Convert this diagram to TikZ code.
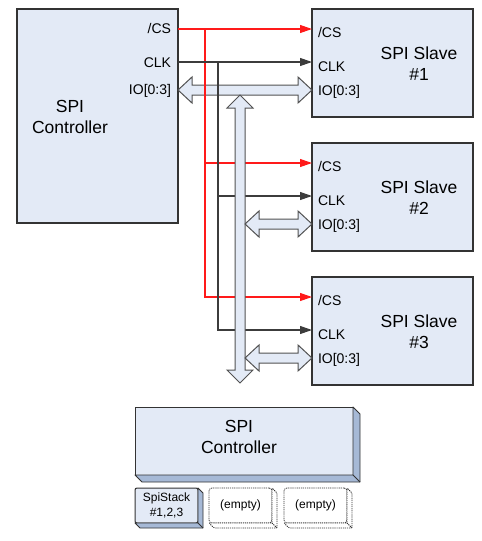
\documentclass[tikz,border=0pt]{standalone}
\usepackage{fontspec}
\setmainfont{Liberation Sans}
\usetikzlibrary{arrows.meta,calc,positioning}
\definecolor{BoxFill}{HTML}{E3EAF6}
\definecolor{BoxSide}{HTML}{A6B9D6}
\definecolor{BoxEdge}{HTML}{333333}
\definecolor{WireRed}{HTML}{FF1A1A}
\definecolor{WireGrey}{HTML}{3C3C3C}
\tikzset{
  every node/.style={font=\fontsize{17.5}{21}\selectfont, text=black, inner sep=0pt, outer sep=0pt},
  block/.style={draw=BoxEdge, line width=1.3pt, fill=BoxFill, anchor=north west},
  face/.style={draw=BoxEdge, line width=0.9pt, fill=BoxSide, line join=round},
  ghost/.style={draw=BoxEdge, line width=0.8pt, dash pattern=on 1.2pt off 0.9pt, fill=white, rounded corners=3pt},
  port/.style={font=\fontsize{14}{17}\selectfont},
  tag/.style={font=\fontsize{12}{14.5}\selectfont, align=center},
  csline/.style={color=WireRed, line width=1.1pt},
  clkline/.style={color=WireGrey, line width=1.1pt},
  sigtip/.style={-{Triangle[length=12pt,width=8pt]}},
  bus/.style={draw=BoxEdge!85, line width=1pt, fill=BoxFill, line join=miter},
}
% block arrow between two points on one row / one column
\newcommand{\hbus}[2]{%
  \draw[bus] (#1) -- ($(#1)+(14,-13)$) -- ($(#1)+(14,-5)$) -- ($(#2)+(-14,-5)$)
    -- ($(#2)+(-14,-13)$) -- (#2) -- ($(#2)+(-14,13)$) -- ($(#2)+(-14,5)$)
    -- ($(#1)+(14,5)$) -- ($(#1)+(14,13)$) -- cycle;}
\newcommand{\vbus}[2]{%
  \draw[bus] (#1) -- ($(#1)+(-13,13)$) -- ($(#1)+(-5,13)$) -- ($(#2)+(-5,-13)$)
    -- ($(#2)+(-13,-13)$) -- (#2) -- ($(#2)+(13,-13)$) -- ($(#2)+(5,-13)$)
    -- ($(#1)+(5,13)$) -- ($(#1)+(13,13)$) -- cycle;}

\begin{document}
\begin{tikzpicture}[x=1pt,y=-1pt]
  \useasboundingbox (0,0) rectangle (482,541);
  % Controller
  \node[block, minimum width=161, minimum height=214] (ctrl) at (17,9) {};
  \node[align=center] (ctrllbl) at (70,117) {SPI\\Controller};
  \node[port, anchor=base east] (ctrlcs) at (171,33) {/CS};
  \node[port, anchor=base east] (ctrlclk) at (171,67) {CLK};
  \node[port, anchor=base east] (ctrlio) at (171,94) {IO[0:3]};
  \coordinate (ctrlcsout) at ($(ctrl.north east)+(0,20)$);
  \coordinate (ctrlclkout) at ($(ctrl.north east)+(0,53)$);
  \coordinate (ctrlioout) at ($(ctrl.north east)+(0,81)$);
  % Slaves
  \foreach \n/\yy in {1/9,2/143,3/277}{
    \node[block, minimum width=161, minimum height=108] (s\n) at (312,\yy) {};
    \node[align=center] (s\n lbl) at (419,\yy+55) {SPI Slave\\\#\n};
    \node[port, anchor=base west] (s\n cs) at (318,\yy+28) {/CS};
    \node[port, anchor=base west] (s\n clk) at (318,\yy+62) {CLK};
    \node[port, anchor=base west] (s\n io) at (318,\yy+86) {IO[0:3]};
    \coordinate (s\n csin) at ($(s\n.north west)+(0,20)$);
    \coordinate (s\n clkin) at ($(s\n.north west)+(0,53)$);
    \coordinate (s\n ioin) at ($(s\n.north west)+(0,81)$);
    \coordinate (s\n iobus) at ($(s\n ioin)+(-67,0)$);
  }
  % Data bus to slave 1, under the wires
  \hbus{ctrlioout}{s1ioin}
  % Chip select
  \coordinate (cstrunk) at ($(ctrlcsout)+(27,0)$);
  \draw[csline, sigtip] (ctrlcsout) -- (s1csin);
  \draw[csline, sigtip] (cstrunk) |- (s3csin);
  \draw[csline, sigtip] (cstrunk |- s2csin) -- (s2csin);
  % Clock
  \coordinate (clktrunk) at ($(ctrlclkout)+(40,0)$);
  \draw[clkline, sigtip] (ctrlclkout) -- (s1clkin);
  \draw[clkline, sigtip] (clktrunk) |- (s3clkin);
  \draw[clkline, sigtip] (clktrunk |- s2clkin) -- (s2clkin);
  % Shared data bus
  \coordinate (bustop) at (240,95);
  \coordinate (busbot) at (240,383);
  \vbus{bustop}{busbot}
  \hbus{s2iobus}{s2ioin}
  \hbus{s3iobus}{s3ioin}
  % Software stack
  \node[block, line width=1pt, minimum width=218, minimum height=68] (host) at (135,407) {};
  \draw[face] (host.north east) -- ++(7,7) -- ($(host.south east)+(7,7)$)
    -- ($(host.south west)+(7,7)$) -- (host.south west) -- (host.south east) -- cycle;
  \draw[face] (host.south east) -- ++(7,7);
  \node[align=center] (hostlbl) at (239,437) {SPI\\Controller};
  \node[block, line width=1pt, rounded corners=2pt, minimum width=63, minimum height=35, tag] (spistack) at (135,488) {SpiStack\\\#1,2,3};
  \draw[face] (spistack.north east) -- ++(5,5) -- ($(spistack.south east)+(5,5)$)
    -- ($(spistack.south west)+(5,5)$) -- (spistack.south west) -- (spistack.south east) -- cycle;
  \draw[face] (spistack.south east) -- ++(5,5);
  \foreach \s/\xx in {b/209,c/284}{
    \node[ghost, anchor=north west, minimum width=63, minimum height=35, tag] (slot\s) at (\xx,488) {(empty)};
    \draw[ghost, rounded corners=1pt] (slot\s.north east) -- ++(5,5) -- ($(slot\s.south east)+(5,5)$)
      -- ($(slot\s.south west)+(5,5)$) -- (slot\s.south west) -- (slot\s.south east) -- cycle;
    \draw[ghost] (slot\s.south east) -- ++(5,5);
  }
\end{tikzpicture}
\end{document}
